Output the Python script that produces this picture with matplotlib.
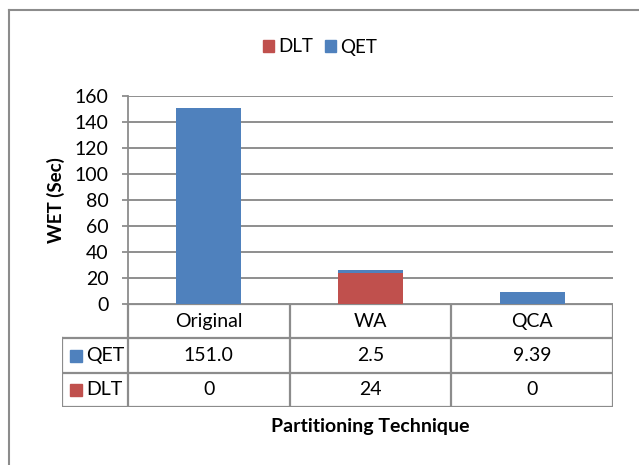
import matplotlib.pyplot as plt
from matplotlib.patches import Patch
from matplotlib.lines import Line2D

plt.rcParams['font.family'] = ['Lato', 'DejaVu Sans']

# data
categories = ["Original", "WA", "QCA"]
qet = [151.0, 2.5, 9.39]
dlt = [0, 24, 0]
qet_text = ["151.0", "2.5", "9.39"]
dlt_text = ["0", "24", "0"]

blue = "#4F81BD"
red = "#C0504D"
grey = "#8C8C8C"

W, H = 639, 465
fig = plt.figure(figsize=(W / 100, H / 100), dpi=100)

def box(l, t, r, b):
    # pixel box -> figure fraction
    return [l / W, 1 - b / H, (r - l) / W, (b - t) / H]

# bar chart
ax = fig.add_axes(box(128, 96, 613, 304))
x = list(range(len(categories)))
ax.bar(x, dlt, width=0.4, color=red, zorder=3)
ax.bar(x, qet, width=0.4, bottom=dlt, color=blue, zorder=3)
ax.set_xlim(-0.5, 2.5)
ax.set_ylim(0, 160)
ax.set_yticks(range(0, 161, 20))
ax.set_xticks([])
ax.grid(axis="y", color="#868686", lw=1.3, zorder=0)
for s in ["top", "right", "bottom"]:
    ax.spines[s].set_visible(False)
ax.spines["left"].set_color(grey)
ax.spines["left"].set_linewidth(1.3)
ax.tick_params(axis="y", length=4, width=1.3, color=grey, pad=10, labelsize=14)

# data table below
cw = (613 - 128) / 3
left = -0.5 - (128 - 62) / cw
tax = fig.add_axes(box(62, 304, 613, 407))
tax.set_xlim(left, 2.5)
tax.set_ylim(3, 0)
tax.axis("off")
lk = dict(color=grey, lw=1.6, solid_capstyle="projecting")
for xv in [-0.5, 0.5, 1.5, 2.5]:
    tax.plot([xv, xv], [0, 3], **lk)
tax.plot([left, left], [1, 3], **lk)
tax.plot([-0.5, 2.5], [0, 0], **lk)
for yv in [1, 2, 3]:
    tax.plot([left, 2.5], [yv, yv], **lk)

for i, c in enumerate(categories):
    tax.text(i, 0.5, c, ha="center", va="center", fontsize=14)
    tax.text(i, 1.5, qet_text[i], ha="center", va="center", fontsize=14)
    tax.text(i, 2.5, dlt_text[i], ha="center", va="center", fontsize=14)

kx = left + 14 / cw
tx = left + 24 / cw
tax.plot([kx], [1.5], marker="s", ms=8, color=blue, clip_on=False)
tax.text(tx, 1.5, "QET", ha="left", va="center", fontsize=14)
tax.plot([kx], [2.5], marker="s", ms=8, color=red, clip_on=False)
tax.text(tx, 2.5, "DLT", ha="left", va="center", fontsize=14)

# axis titles
fig.text(56 / W, 1 - 200 / H, "WET (Sec)", rotation=90, ha="center", va="center",
         fontsize=13.5, fontweight="bold")
fig.text(370 / W, 1 - 426 / H, "Partitioning Technique", ha="center", va="center",
         fontsize=14, fontweight="bold")

# legend
handles = [Patch(color=red, label="DLT"), Patch(color=blue, label="QET")]
fig.legend(handles=handles, loc="center", bbox_to_anchor=(320 / W, 1 - 47 / H),
           ncol=2, frameon=False, fontsize=13.5, handlelength=0.6, handleheight=0.6,
           handletextpad=0.25, columnspacing=0.6)

# chart frame (left and top edges only visible)
fig.add_artist(Line2D([9 / W, 9 / W], [0, 1 - 10 / H], color=grey, lw=1.5))
fig.add_artist(Line2D([9 / W, 1], [1 - 10 / H, 1 - 10 / H], color=grey, lw=1.5))

fig.savefig("out.png", dpi=100)
